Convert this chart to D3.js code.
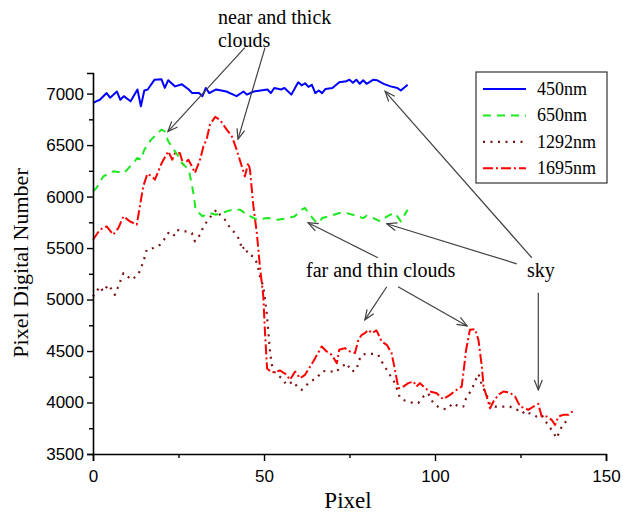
<!DOCTYPE html>
<html>
<head>
<meta charset="utf-8">
<script src="https://cdn.jsdelivr.net/npm/d3@7/dist/d3.min.js"></script>
<style>
  html, body { margin: 0; padding: 0; background: #fff; }
  svg { display: block; }
</style>
</head>
<body>
<svg id="chart" width="623" height="517"></svg>
<script>
// ---------- DATA ----------
const seriesNames = ["450nm", "650nm", "1292nm", "1695nm"];

const x450 = [0,2,4,5,7,8,9,11,13,14,15,16,18,20,21,22,24,26,28,29,31,32,33,34,36,39,41,42,44,45,47,49,51,52,53,55,56,58,60,61,62,63,64,65,66,67,68,70,72,74,75,76,77,78,79,80,82,83,85,87,89,90,92];
const y450 = [6910,6940,7005,6960,7020,6940,6975,6925,7040,6877,7030,7040,7135,7140,7055,7130,7070,7090,7040,7005,7005,6975,7055,7005,7040,7020,6990,6975,7020,6990,7020,7030,7040,7005,7055,7040,7055,6990,7110,7080,7100,7065,7085,7005,7030,7005,7045,7055,7110,7120,7135,7105,7135,7095,7130,7095,7135,7130,7095,7070,7055,7030,7085];

const x650 = [0,1,3,6,9,10,13,14,15,17,20,21,22,24,25,26,28,29,29.5,30,32,34,36,40,43,45,48,51,54,57,59,61,62,63,65,66,67,69,72,74,77,79,80,82,84,86,88,89,90,92];
const y650 = [6050,6083,6196,6245,6229,6261,6375,6358,6455,6553,6650,6634,6536,6439,6390,6326,6261,6100,6002,5873,5808,5841,5824,5866,5873,5824,5775,5791,5775,5791,5808,5873,5889,5841,5759,5743,5791,5808,5841,5841,5814,5791,5814,5791,5759,5808,5841,5808,5759,5873];

const x1292 = [0,2,3,4.5,5.5,6.4,7.4,8.9,11.3,13.2,14.2,15.2,15.7,17.6,19.6,21.1,22,23.5,24.5,25.9,27.4,28.9,29.8,31.3,32.3,33.7,35.2,36.2,37.1,38.6,40.1,42,43,43.5,44.4,45.4,46.9,48,48.8,49.8,50.3,50.8,51.3,51.8,52.3,53.2,55.2,56.6,58.6,59.8,61,63.5,65.4,66.9,68.8,70.8,72.2,74.2,75.6,77.1,77.6,78.6,80,82,83.4,84.4,85.9,88.3,89.8,91.2,93.7,95.1,96.6,98,99.5,101.5,103.4,105.4,106.8,108.3,109.1,110.7,111.7,112.7,113.7,115.1,116.1,117.5,119.5,121.9,123.4,125.3,126.3,127.8,129.7,131.2,132.7,134.1,135.6,136.6,137.5,139.5];
const y1292 = [5030,5127,5078,5143,5095,5046,5127,5257,5192,5241,5322,5419,5484,5500,5532,5597,5646,5613,5678,5662,5662,5646,5565,5629,5710,5775,5841,5873,5824,5775,5694,5629,5565,5484,5516,5435,5419,5350,5224,5127,4998,4868,4674,4480,4366,4285,4236,4171,4204,4149,4123,4204,4236,4301,4311,4291,4333,4382,4301,4317,4398,4463,4473,4473,4463,4398,4317,4188,4042,4019,3994,3994,4058,4090,3994,3945,3935,3994,3961,3961,4042,4123,4204,4278,4171,4074,3977,3961,3961,3961,3929,3929,3880,3896,3864,3880,3799,3734,3653,3734,3799,3832];

const x1695 = [0,2,4,5.9,7.4,8.9,10.8,12.8,13.7,14.7,15.9,17.2,18.1,20.1,22,23.2,24,25.4,26.4,27.9,28.9,29.8,31.3,32.3,33.2,34.2,35.7,37.1,39.1,40.6,42,43.5,44.4,45.4,45.9,46.9,47.9,48.8,49.8,50.3,50.9,52.3,54.7,56.6,57.6,59.1,60.5,62,64.4,66.9,68.3,69.8,71.3,72,73.7,75.1,76.6,77.6,78.6,79.5,80.5,81.5,82.9,84.4,85.9,87.3,88.3,89.3,90.7,92.2,93.7,94.6,95.6,97.1,98.5,100.5,102.4,104.4,106.3,107.8,108.3,109.1,110.2,111.7,112.7,113.7,114.2,115.1,116.1,117.1,118.5,120,121.9,123.4,124.9,126.3,127.3,128.8,130.2,131.2,132.7,134.1,135.1,136.1,137.5,139,140.4];
const y1695 = [5581,5678,5710,5629,5694,5808,5759,5727,5905,6100,6220,6196,6164,6326,6439,6358,6423,6423,6310,6358,6294,6229,6358,6488,6553,6698,6773,6747,6650,6585,6456,6294,6196,6326,6261,5905,5646,5322,5030,4674,4330,4291,4311,4269,4220,4301,4236,4269,4398,4544,4496,4463,4382,4512,4528,4496,4480,4609,4658,4674,4706,4674,4700,4593,4560,4480,4317,4139,4155,4188,4204,4155,4188,4139,4107,4090,4032,4074,4123,4155,4285,4512,4706,4713,4609,4350,4155,4058,3945,4010,4074,4107,4097,4058,3961,3945,3929,3961,3987,3864,3864,3832,3783,3864,3880,3880,3919];

const xTicks = [0, 50, 100, 150];
const yTicks = [3500, 4000, 4500, 5000, 5500, 6000, 6500, 7000];

// annotation arrows in data units: [x1, y1, x2, y2] (tail -> head)
const arrowsNear = [[44.4, 7447, 21.9, 6631], [50.3, 7447, 42.4, 6558]];
const arrowsFar  = [[83.3, 5406, 62.9, 5746], [85.9, 5124, 79.5, 4803], [89.2, 5124, 109.4, 4744]];
const arrowsSky  = [[128.3, 5406, 85.4, 7022], [123.9, 5347, 85.9, 5736], [130.2, 5065, 130.2, 4122]];

// ---------- DRAWING ----------
const svg = d3.select("#chart");
svg.append("rect").attr("width", 623).attr("height", 517).attr("fill", "#fff");

const x = d3.scaleLinear().domain([0, 150]).range([93, 606]);
const y = d3.scaleLinear().domain([3500, 7200]).range([454, 73]);

const styles = [
  { color: "#0000ff", dash: null, width: 2 },
  { color: "#1ee81e", dash: "8,6", width: 2 },
  { color: "#7a1414", dash: "2,5.5", width: 2.2 },
  { color: "#ff0000", dash: "10,3,2,3", width: 2 }
];
const seriesData = [
  x450.map((v, i) => [v, y450[i]]),
  x650.map((v, i) => [v, y650[i]]),
  x1292.map((v, i) => [v, y1292[i]]),
  x1695.map((v, i) => [v, y1695[i]])
];

const line = d3.line().x(d => x(d[0])).y(d => y(d[1]));

// draw order: dotted first, then red, green, blue
[2, 3, 1, 0].forEach(i => {
  svg.append("path")
    .datum(seriesData[i])
    .attr("fill", "none")
    .attr("stroke", styles[i].color)
    .attr("stroke-width", styles[i].width)
    .attr("stroke-dasharray", styles[i].dash)
    .attr("stroke-linejoin", "round")
    .attr("d", line);
});

// axes
svg.append("g").attr("transform", `translate(0,${y(3500)})`)
  .call(d3.axisBottom(x).tickValues(xTicks).tickFormat(d3.format("d")).tickSize(7).tickPadding(9));
svg.append("g").attr("transform", `translate(0,${y(3500)})`)
  .call(d3.axisBottom(x).tickValues([25, 75, 125]).tickFormat("").tickSize(4))
  .select(".domain").remove();

svg.append("g").attr("transform", `translate(${x(0)},0)`)
  .call(d3.axisLeft(y).tickValues(yTicks).tickFormat(d3.format("d")).tickSize(6).tickPadding(3));
svg.append("g").attr("transform", `translate(${x(0)},0)`)
  .call(d3.axisLeft(y).tickValues([3750, 4250, 4750, 5250, 5750, 6250, 6750]).tickFormat("").tickSize(4))
  .select(".domain").remove();

svg.selectAll(".domain").attr("stroke", "#000").attr("stroke-width", 1.6);
svg.selectAll(".tick line").attr("stroke", "#000").attr("stroke-width", 1.4);
svg.selectAll(".tick text")
  .attr("font-family", "'Liberation Sans', Arial, sans-serif")
  .attr("font-size", 17).attr("fill", "#000");

// axis titles
svg.append("text")
  .attr("x", 348).attr("y", 508)
  .attr("text-anchor", "middle")
  .attr("font-family", "'Liberation Serif', 'Times New Roman', serif")
  .attr("font-size", 23)
  .text("Pixel");
svg.append("text")
  .attr("transform", "translate(28,263) rotate(-90)")
  .attr("text-anchor", "middle")
  .attr("font-family", "'Liberation Serif', 'Times New Roman', serif")
  .attr("font-size", 22)
  .text("Pixel Digital Number");

// legend
const lg = svg.append("g");
lg.append("rect").attr("x", 476).attr("y", 72).attr("width", 131).attr("height", 111)
  .attr("fill", "#fff").attr("stroke", "#333").attr("stroke-width", 1.2);
seriesNames.forEach((name, i) => {
  const yy = 89 + i * 26.4;
  lg.append("line").attr("x1", 483).attr("x2", 526).attr("y1", yy).attr("y2", yy)
    .attr("stroke", styles[i].color).attr("stroke-width", styles[i].width)
    .attr("stroke-dasharray", styles[i].dash);
  lg.append("text").attr("x", 537).attr("y", yy + 6)
    .attr("font-family", "'Liberation Serif', 'Times New Roman', serif")
    .attr("font-size", 18).text(name);
});

// annotations
const defs = svg.append("defs");
defs.append("marker").attr("id", "arr")
  .attr("viewBox", "0 0 12 10").attr("refX", 11).attr("refY", 5)
  .attr("markerWidth", 12).attr("markerHeight", 10)
  .attr("markerUnits", "userSpaceOnUse").attr("orient", "auto")
  .append("path").attr("d", "M1,1 L11,5 L1,9").attr("fill", "none")
  .attr("stroke", "#404040").attr("stroke-width", 1.2);

[...arrowsNear, ...arrowsFar, ...arrowsSky].forEach(a => {
  svg.append("line")
    .attr("x1", x(a[0])).attr("y1", y(a[1]))
    .attr("x2", x(a[2])).attr("y2", y(a[3]))
    .attr("stroke", "#404040").attr("stroke-width", 1.2)
    .attr("marker-end", "url(#arr)");
});

const annFont = "'Liberation Serif', 'Times New Roman', serif";
const ann = [
  { t: "near and thick", x: 218, y: 24 },
  { t: "clouds", x: 218, y: 47 },
  { t: "far and thin clouds", x: 306, y: 277 },
  { t: "sky", x: 527, y: 277 }
];
ann.forEach(a => {
  svg.append("text").attr("x", a.x).attr("y", a.y)
    .attr("font-family", annFont).attr("font-size", 20).text(a.t);
});
</script>
</body>
</html>
